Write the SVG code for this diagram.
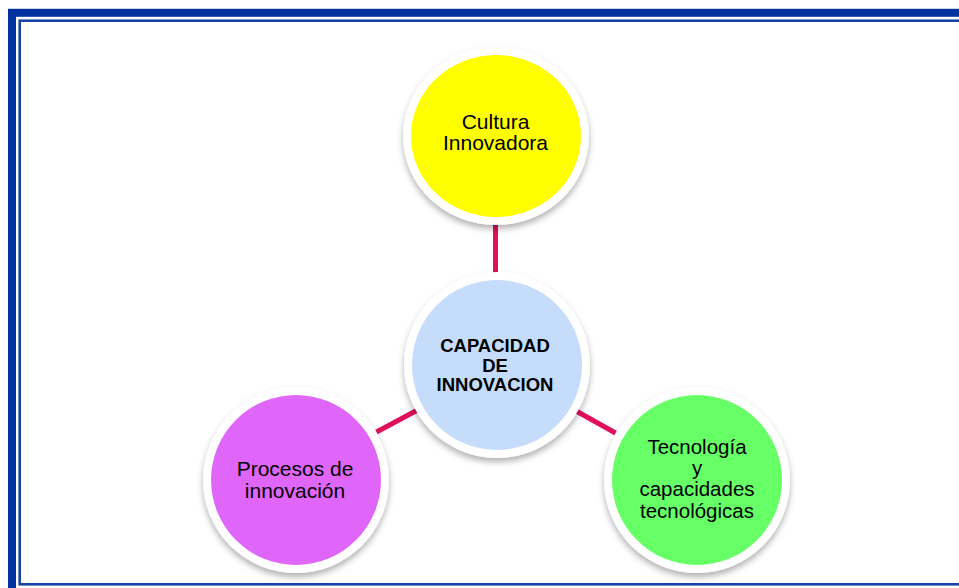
<svg xmlns="http://www.w3.org/2000/svg" width="959" height="588" viewBox="0 0 959 588">
<defs>
<style>
.frame-outer{fill:none;stroke:#0033a0;stroke-width:8}
.frame-inner{fill:none;stroke:#1544a8;stroke-width:2.6}
.ring{fill:#ffffff;filter:url(#sh)}
.lbl{font-family:"Liberation Sans",Arial,sans-serif;font-size:21px;fill:#000;text-anchor:middle}
.small{font-size:20.5px}
.bold{font-weight:bold;font-size:18.5px}
.conn{stroke:#e0105c;stroke-width:5;stroke-linecap:butt;fill:none}
</style>
<filter id="sh" x="-20%" y="-20%" width="140%" height="150%">
<feDropShadow dx="0" dy="4" stdDeviation="3" flood-color="#000" flood-opacity="0.3"/>
</filter>
</defs>
<rect width="959" height="588" fill="#ffffff"/>
<rect class="frame-outer" x="12" y="12.8" width="970" height="600"/>
<rect class="frame-inner" x="19.7" y="20.7" width="960" height="563.6"/>
<g id="connectors">
<line class="conn" x1="495.5" y1="224" x2="495.5" y2="276"/>
<line class="conn" x1="376.5" y1="432" x2="418.5" y2="409.5"/>
<line class="conn" x1="573.5" y1="409.5" x2="615.5" y2="433"/>
</g>
<g id="node-cultura">
<ellipse class="ring" cx="496" cy="136" rx="93" ry="89"/>
<ellipse cx="496" cy="136" rx="85" ry="81" fill="#ffff00"/>
<text class="lbl" x="495.5" y="129.3">Cultura</text>
<text class="lbl" x="495.5" y="150.3">Innovadora</text>
</g>
<g id="node-capacidad">
<circle class="ring" cx="497" cy="365" r="93"/>
<circle cx="497" cy="365" r="85" fill="#c5ddfa"/>
<text class="lbl bold" x="495" y="352">CAPACIDAD</text>
<text class="lbl bold" x="495" y="371.5">DE</text>
<text class="lbl bold" x="495" y="391">INNOVACION</text>
</g>
<g id="node-procesos">
<circle class="ring" cx="296" cy="480" r="93"/>
<circle cx="296" cy="480" r="85" fill="#e066fa"/>
<text class="lbl" x="295" y="475.7">Procesos de</text>
<text class="lbl" x="295" y="498.3">innovación</text>
</g>
<g id="node-tecnologia">
<circle class="ring" cx="697" cy="480" r="93"/>
<circle cx="697" cy="480" r="85" fill="#66ff66"/>
<text class="lbl small" x="697" y="453.5">Tecnología</text>
<text class="lbl small" x="697" y="475">y</text>
<text class="lbl small" x="697" y="496.3">capacidades</text>
<text class="lbl small" x="697" y="518">tecnológicas</text>
</g>
</svg>
